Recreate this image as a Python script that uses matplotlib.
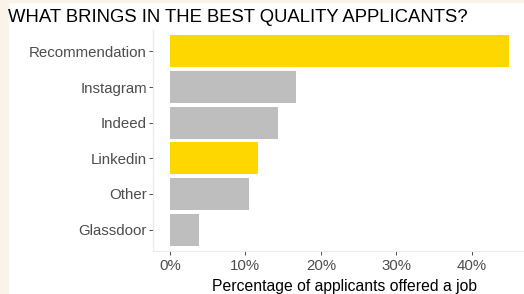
import matplotlib.pyplot as plt
from matplotlib.patches import Rectangle
from matplotlib.ticker import FuncFormatter

plt.rcParams['font.family'] = ['Liberation Sans', 'DejaVu Sans']

sources = ['Recommendation', 'Instagram', 'Indeed', 'Linkedin', 'Other', 'Glassdoor']
pct = [44.9, 16.7, 14.3, 11.7, 10.5, 3.8]
colours = ['#FFD700', '#BEBEBE', '#BEBEBE', '#FFD700', '#BEBEBE', '#BEBEBE']

fig = plt.figure(figsize=(5.24, 2.94), dpi=100)
fig.patch.set_facecolor('white')

# beige strip on the left and top edge
fig.patches.append(Rectangle((0, 0), 8 / 524, 1, transform=fig.transFigure,
                             color='#FAF3EA', zorder=0))
fig.patches.append(Rectangle((0, 1 - 2 / 294), 1, 2 / 294, transform=fig.transFigure,
                             color='#FAF3EA', zorder=0))

ax = fig.add_axes([153 / 524, (294 - 251) / 294, (524 - 153) / 524, (251 - 30) / 294])

y = list(range(len(sources)))
ax.barh(y, pct, height=0.9, color=colours)
ax.set_yticks(y)
ax.set_yticklabels(sources)
ax.set_ylim(len(sources) - 0.4, -0.6)
ax.set_xlim(-2.24, 46.9)
ax.set_xticks([0, 10, 20, 30, 40])
ax.xaxis.set_major_formatter(FuncFormatter(lambda v, p: f'{v:.0f}%'))

for s in ['top', 'right']:
    ax.spines[s].set_visible(False)
for s in ['left', 'bottom']:
    ax.spines[s].set_color('#EBEBEB')
    ax.spines[s].set_linewidth(0.8)

ax.tick_params(axis='both', colors='#333333', labelcolor='#4D4D4D',
               labelsize=10.8, length=3, width=0.6, pad=1.5)
ax.tick_params(axis='x', pad=3)

ax.set_xlabel('Percentage of applicants offered a job', fontsize=11.3,
              color='black')
ax.xaxis.set_label_coords(0.517, -0.125)
fig.text(8 / 524, 1 - 17 / 294, 'WHAT BRINGS IN THE BEST QUALITY APPLICANTS?',
         fontsize=13.3, color='black', va='center', ha='left')

fig.savefig('out.png', dpi=100)
